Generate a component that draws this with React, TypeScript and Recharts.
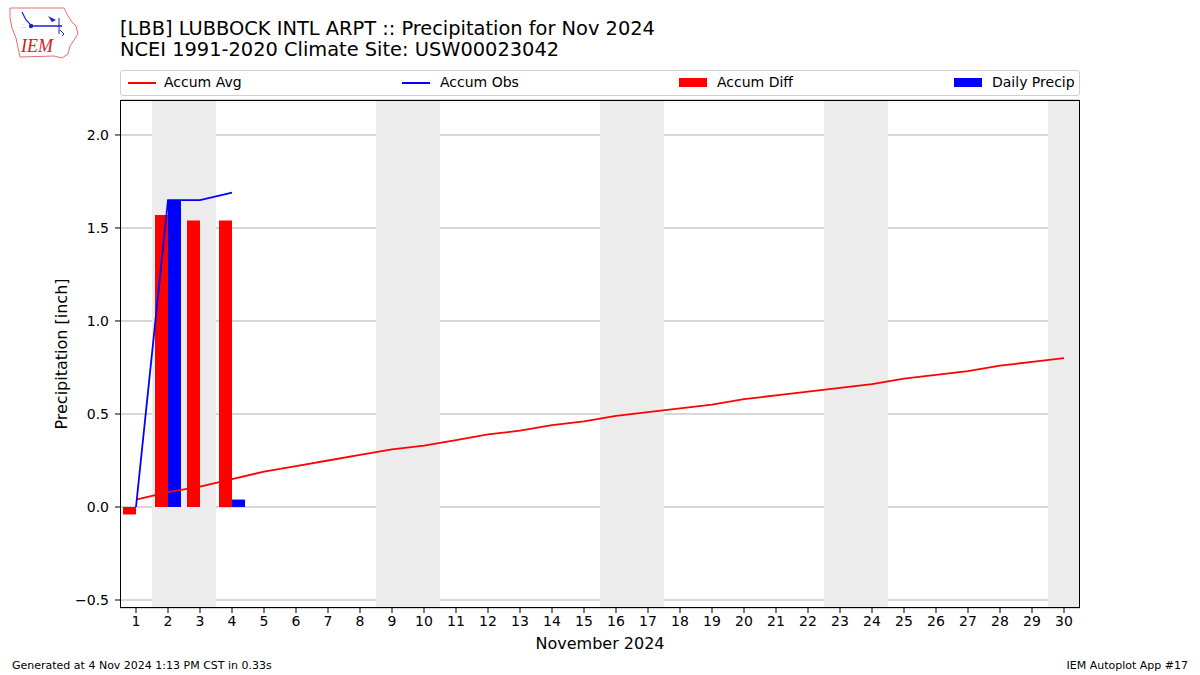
import React from "react";
import {
  ComposedChart,
  Bar,
  Line,
  XAxis,
  YAxis,
  CartesianGrid,
  ReferenceArea,
} from "recharts";

const days = Array.from({ length: 30 }, (_, i) => i + 1);

const accumAvg = [
  0.04, 0.08, 0.11, 0.15, 0.19, 0.22, 0.25, 0.28, 0.31, 0.33,
  0.36, 0.39, 0.41, 0.44, 0.46, 0.49, 0.51, 0.53, 0.55, 0.58,
  0.6, 0.62, 0.64, 0.66, 0.69, 0.71, 0.73, 0.76, 0.78, 0.8,
];
const accumObs = [0.0, 1.65, 1.65, 1.69];
const accumDiff = [-0.04, 1.57, 1.54, 1.54];
const dailyPrecip = [0.0, 1.65, 0.0, 0.04];

const weekends: [number, number][] = [
  [2, 3],
  [9, 10],
  [16, 17],
  [23, 24],
  [30, 30],
];

const yTicks = [-0.5, 0, 0.5, 1.0, 1.5, 2.0];

const FONT = "'DejaVu Sans', sans-serif";

const chartData = days.map((d, i) => ({
  day: d,
  avg: accumAvg[i],
  obs: i < accumObs.length ? accumObs[i] : null,
  diff: i < accumDiff.length ? accumDiff[i] : null,
  daily: i < dailyPrecip.length ? dailyPrecip[i] : null,
}));

const fmtY = (v: number) => (v < 0 ? "\u2212" + Math.abs(v).toFixed(1) : v.toFixed(1));

function Logo() {
  return (
    <svg width={80} height={60} style={{ position: "absolute", left: 6, top: 4 }}>
      <path
        d="M4 4 L58 4 L62 12 L66 18 L70 22 L72 30 L68 36 L64 42 L62 50 L56 54 L48 52 L14 53 L12 44 L10 34 L6 24 L4 14 Z"
        fill="none"
        stroke="#e07070"
        strokeWidth={1}
      />
      <path d="M16 8 L20 16 L24 20" stroke="#2020d0" strokeWidth={1.2} fill="none" />
      <circle cx={25} cy={22} r={2.2} fill="#2020d0" />
      <line x1={25} y1={22} x2={56} y2={22} stroke="#2020d0" strokeWidth={1.5} />
      <path d="M42 12 L50 16 L46 18 Z" fill="#2020d0" />
      <line x1={53} y1={14} x2={53} y2={30} stroke="#2020d0" strokeWidth={1} />
      <path d="M54 26 L58 30 L56 32" stroke="#2020d0" strokeWidth={1} fill="none" />
      <text x={16} y={24} fontSize={6} fill="#2020d0">{"\u2234"}</text>
      <text
        x={15}
        y={48}
        fontFamily="'Liberation Serif', serif"
        fontStyle="italic"
        fontSize={18}
        fill="#d02020"
      >
        IEM
      </text>
    </svg>
  );
}

function LegendBox() {
  const txt: React.CSSProperties = {
    position: "absolute",
    top: 3,
    fontSize: 14,
    fontFamily: FONT,
    color: "#000",
    lineHeight: "17px",
  };
  return (
    <div
      style={{
        position: "absolute",
        left: 120,
        top: 70,
        width: 958,
        height: 24,
        border: "1px solid #d0d0d0",
        borderRadius: 3,
        background: "#fff",
      }}
    >
      <div style={{ position: "absolute", left: 7, top: 11, width: 28, height: 2, background: "#ff0000" }} />
      <div style={{ ...txt, left: 43 }}>Accum Avg</div>
      <div style={{ position: "absolute", left: 281, top: 11, width: 28, height: 2, background: "#0000ff" }} />
      <div style={{ ...txt, left: 319 }}>Accum Obs</div>
      <div style={{ position: "absolute", left: 558, top: 7, width: 28, height: 9, background: "#ff0000" }} />
      <div style={{ ...txt, left: 596 }}>Accum Diff</div>
      <div style={{ position: "absolute", left: 833, top: 7, width: 28, height: 9, background: "#0000ff" }} />
      <div style={{ ...txt, left: 871 }}>Daily Precip</div>
    </div>
  );
}

export default function App() {
  return (
    <div
      style={{
        position: "absolute",
        left: 0,
        top: 0,
        width: 1200,
        height: 675,
        background: "#fff",
        fontFamily: FONT,
      }}
    >
      <Logo />
      <div style={{ position: "absolute", left: 120, top: 18, fontSize: 19.4, lineHeight: "21px", color: "#000" }}>
        [LBB] LUBBOCK INTL ARPT :: Precipitation for Nov 2024
        <br />
        NCEI 1991-2020 Climate Site: USW00023042
      </div>
      <LegendBox />

      <div style={{ position: "absolute", left: 0, top: 0 }}>
        <ComposedChart
          width={1200}
          height={675}
          data={chartData}
          margin={{ top: 100, right: 120, bottom: 37, left: 60 }}
          barGap={0}
          barSize={13}
        >
          {weekends.map(([a, b]) => (
            <ReferenceArea
              key={a}
              x1={a}
              x2={b}
              fill="#ececec"
              fillOpacity={1}
              stroke="none"
              ifOverflow="visible"
            />
          ))}
          <CartesianGrid vertical={false} stroke="#b0b0b0" strokeWidth={1} />
          <XAxis
            dataKey="day"
            type="category"
            height={30}
            interval={0}
            tick={{ fontSize: 14, fill: "#000", fontFamily: FONT }}
            tickSize={5}
            tickMargin={3}
            tickLine={{ stroke: "#000" }}
            axisLine={false}
          />
          <YAxis
            type="number"
            domain={[-0.543, 2.188]}
            ticks={yTicks}
            allowDataOverflow
            width={60}
            tickFormatter={fmtY}
            tick={{ fontSize: 14, fill: "#000", fontFamily: FONT }}
            tickSize={5}
            tickMargin={6}
            tickLine={{ stroke: "#000" }}
            axisLine={false}
          />
          <Bar dataKey="diff" fill="#ff0000" isAnimationActive={false} />
          <Bar dataKey="daily" fill="#0000ff" isAnimationActive={false} />
          <Line
            dataKey="avg"
            type="linear"
            stroke="#ff0000"
            strokeWidth={1.8}
            dot={false}
            activeDot={false}
            isAnimationActive={false}
          />
          <Line
            dataKey="obs"
            type="linear"
            stroke="#0000ff"
            strokeWidth={1.8}
            dot={false}
            activeDot={false}
            connectNulls={false}
            isAnimationActive={false}
          />
        </ComposedChart>
      </div>

      <div
        style={{
          position: "absolute",
          left: 120,
          top: 100,
          width: 958,
          height: 506,
          border: "1px solid #000",
          pointerEvents: "none",
        }}
      />

      <div
        style={{
          position: "absolute",
          left: 0,
          top: 634,
          width: 1200,
          textAlign: "center",
          fontSize: 16,
          lineHeight: "20px",
        }}
      >
        November 2024
      </div>
      <div
        style={{
          position: "absolute",
          left: 62 - 150,
          top: 354 - 10,
          width: 300,
          textAlign: "center",
          fontSize: 16,
          lineHeight: "20px",
          transform: "rotate(-90deg)",
        }}
      >
        Precipitation [inch]
      </div>
      <div style={{ position: "absolute", left: 12, top: 659, fontSize: 11, lineHeight: "14px" }}>
        Generated at 4 Nov 2024 1:13 PM CST in 0.33s
      </div>
      <div style={{ position: "absolute", right: 12, top: 659, fontSize: 11, lineHeight: "14px" }}>
        IEM Autoplot App #17
      </div>
    </div>
  );
}
